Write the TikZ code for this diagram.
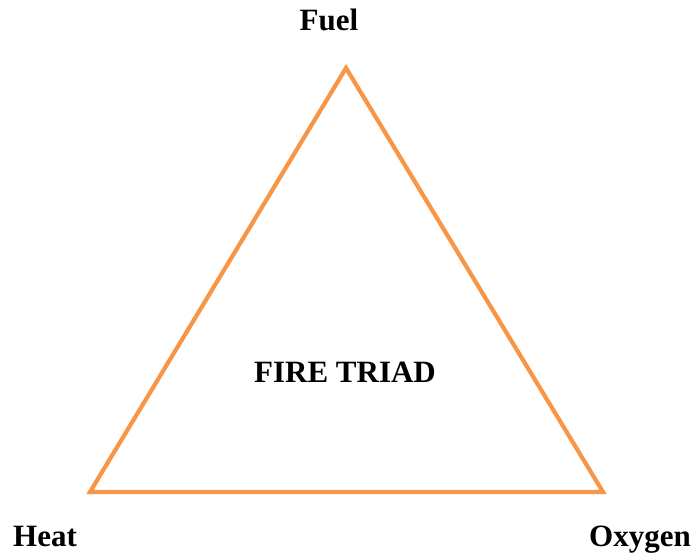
\documentclass[tikz,border=0pt]{standalone}
\usepackage{fontspec}
\setmainfont{Liberation Serif}
\definecolor{triorange}{HTML}{F79646}
\begin{document}
\begin{tikzpicture}[x=1pt,y=-1pt,
  lbl/.style={font=\fontsize{31}{36}\selectfont\bfseries, anchor=base, inner sep=0pt},
  edge/.style={draw=triorange, line width=4.2pt, line join=miter}]
\useasboundingbox (0,0) rectangle (695,556);
\coordinate (top) at (346,68);
\coordinate (bl) at (90,492);
\coordinate (br) at (603,492);
\draw[edge] (top) -- (bl) -- (br) -- cycle;
\node[lbl] (fuel) at (329,31) {Fuel};
\node[lbl] (heat) at (45,546) {Heat};
\node[lbl] (oxygen) at (640,546) {Oxygen};
\node[lbl] (center) at (345,382) {FIRE TRIAD};
\end{tikzpicture}
\end{document}
